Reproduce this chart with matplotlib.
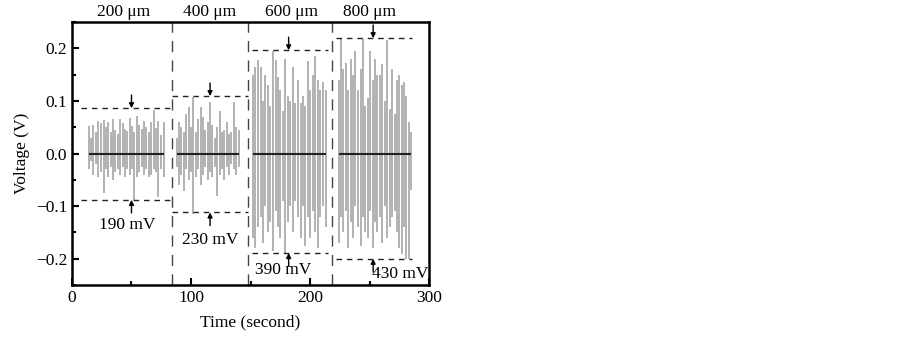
import numpy as np
import matplotlib.pyplot as plt
from matplotlib.ticker import MultipleLocator

plt.rcParams['font.family'] = ['Liberation Serif', 'DejaVu Serif']

# spike data per electrode gap: time (s), positive peak (V), negative peak (V)
t1 = [14, 16, 18, 20, 22, 24, 26.5, 28.5, 30.5, 32.5, 34.5, 36.5, 38.5, 40.5, 42.5, 44.5,
      46.5, 48.5, 50.5, 52.5, 54.5, 56.5, 58.5, 60.5, 62.5, 64.5, 66.5, 68.5, 70.5, 72.5, 74.5, 77]
hi1 = [0.053, 0.030, 0.055, 0.040, 0.062, 0.058, 0.064, 0.050, 0.060, 0.040, 0.065, 0.044,
       0.038, 0.066, 0.058, 0.047, 0.042, 0.068, 0.052, 0.040, 0.072, 0.055, 0.046, 0.062,
       0.050, 0.040, 0.060, 0.083, 0.048, 0.062, 0.035, 0.060]
lo1 = [-0.030, -0.015, -0.040, -0.020, -0.045, -0.035, -0.075, -0.030, -0.045, -0.025,
       -0.050, -0.035, -0.030, -0.040, -0.025, -0.045, -0.030, -0.040, -0.030, -0.088,
       -0.045, -0.035, -0.025, -0.040, -0.030, -0.045, -0.040, -0.030, -0.035, -0.082,
       -0.030, -0.045]

t2 = [88, 90, 92, 94, 96, 98, 100, 102, 104, 106, 108, 110, 112, 114, 116, 118,
      120, 122, 124, 126, 128, 130, 132, 134, 136, 138, 140]
hi2 = [0.030, 0.060, 0.050, 0.040, 0.075, 0.088, 0.050, 0.107, 0.040, 0.065, 0.089, 0.070,
       0.045, 0.060, 0.098, 0.055, 0.030, 0.050, 0.080, 0.040, 0.045, 0.060, 0.038, 0.040,
       0.098, 0.050, 0.045]
lo2 = [-0.025, -0.060, -0.040, -0.072, -0.030, -0.050, -0.035, -0.114, -0.045, -0.030,
       -0.060, -0.040, -0.025, -0.050, -0.035, -0.045, -0.025, -0.081, -0.040, -0.030,
       -0.050, -0.025, -0.040, -0.020, -0.030, -0.040, -0.025]

t3 = [152, 154, 156, 158.5, 160.5, 162.5, 164.5, 166.5, 168.5, 171, 173, 175, 177,
      179, 181.5, 183.5, 185.5, 187.5, 189.5, 192, 194, 196, 198, 200, 202.5, 204.5,
      206.5, 208.5, 210.5, 213]
hi3 = [0.150, 0.165, 0.178, 0.165, 0.100, 0.150, 0.130, 0.090, 0.194, 0.178, 0.145,
       0.120, 0.080, 0.180, 0.110, 0.100, 0.165, 0.095, 0.140, 0.095, 0.110, 0.090,
       0.175, 0.120, 0.150, 0.185, 0.140, 0.120, 0.135, 0.120]
lo3 = [-0.160, -0.180, -0.140, -0.120, -0.170, -0.100, -0.150, -0.130, -0.185, -0.110,
       -0.140, -0.160, -0.090, -0.189, -0.130, -0.100, -0.150, -0.090, -0.120, -0.160,
       -0.100, -0.175, -0.120, -0.160, -0.110, -0.150, -0.180, -0.120, -0.100, -0.140]

t4 = [224, 226, 228, 230, 232, 234, 236, 238, 240, 242.5, 244.5, 246.5, 248.5, 250.5,
      252.5, 254.5, 256.5, 258.5, 260.5, 263, 265, 267, 269, 271, 273, 275, 277, 279,
      281, 283, 285]
hi4 = [0.140, 0.217, 0.160, 0.172, 0.120, 0.180, 0.149, 0.194, 0.120, 0.160, 0.217,
       0.090, 0.105, 0.194, 0.140, 0.180, 0.150, 0.149, 0.170, 0.100, 0.215, 0.085,
       0.160, 0.075, 0.140, 0.150, 0.130, 0.135, 0.110, 0.060, 0.040]
lo4 = [-0.170, -0.120, -0.150, -0.110, -0.180, -0.130, -0.160, -0.100, -0.140, -0.175,
       -0.120, -0.150, -0.160, -0.110, -0.180, -0.130, -0.150, -0.120, -0.170, -0.100,
       -0.160, -0.140, -0.120, -0.110, -0.150, -0.180, -0.190, -0.140, -0.200, -0.200,
       -0.070]

gaps = ['200 \u03bcm', '400 \u03bcm', '600 \u03bcm', '800 \u03bcm']
amps = ['190 mV', '230 mV', '390 mV', '430 mV']
seps = [84, 148, 218.5]
tops = [0.086, 0.109, 0.196, 0.219]
bots = [-0.088, -0.112, -0.189, -0.200]
spans = [(8, 84), (84, 148), (151, 215), (222, 286)]
arrow_x = [50, 116, 182, 253]
gap_x = [43, 116, 184, 250]
amp_pos = [(46, -0.135), (116, -0.164), (177, -0.221), (276, -0.229)]

fig = plt.figure(figsize=(9.03, 3.37), dpi=100)
ax = fig.add_axes([0.0797, 0.154, 0.3955, 0.781])

for t, hi, lo in [(t1, hi1, lo1), (t2, hi2, lo2), (t3, hi3, lo3), (t4, hi4, lo4)]:
    ax.vlines(t, lo, hi, colors='#a6a6a6', linewidth=1.2)
    ax.hlines(0, t[0], t[-1], colors='#222222', linewidth=1.5)

for x in seps:
    ax.axvline(x, color='#444444', linestyle=(0, (8, 6)), linewidth=1.0)

for i in range(4):
    x0, x1 = spans[i]
    ax.hlines([tops[i], bots[i]], x0, x1, colors='#222222', linestyles=(0, (4, 3.5)), linewidth=1.0)
    ax.annotate('', xy=(arrow_x[i], tops[i]), xytext=(arrow_x[i], tops[i] + 0.025),
                arrowprops=dict(arrowstyle='-|>', color='black', lw=1.0, mutation_scale=7,
                                shrinkA=0, shrinkB=0))
    ax.annotate('', xy=(arrow_x[i], bots[i]), xytext=(arrow_x[i], bots[i] - 0.025),
                arrowprops=dict(arrowstyle='-|>', color='black', lw=1.0, mutation_scale=7,
                                shrinkA=0, shrinkB=0))
    ax.text(gap_x[i], 1.008, gaps[i], transform=ax.get_xaxis_transform(),
            ha='center', va='bottom', fontsize=12.5)
    ax.text(amp_pos[i][0], amp_pos[i][1], amps[i], ha='center', va='center', fontsize=12.5)

ax.set_xlim(0, 300)
ax.set_ylim(-0.25, 0.25)
ax.set_xticks([0, 100, 200, 300])
ax.set_yticks([-0.2, -0.1, 0.0, 0.1, 0.2])
ax.set_yticklabels(['\u22120.2', '\u22120.1', '0.0', '0.1', '0.2'])
ax.xaxis.set_minor_locator(MultipleLocator(50))
ax.yaxis.set_minor_locator(MultipleLocator(0.05))
ax.tick_params(which='both', direction='in', labelsize=12.5, width=1.5, top=False, right=False)
ax.tick_params(which='major', length=5)
ax.tick_params(which='minor', length=3)
for s in ax.spines.values():
    s.set_linewidth(1.8)

ax.set_xlabel('Time (second)', fontsize=12.5, labelpad=6)
ax.set_ylabel('Voltage (V)', fontsize=12.5, labelpad=4)

fig.savefig('out.png', dpi=100)
